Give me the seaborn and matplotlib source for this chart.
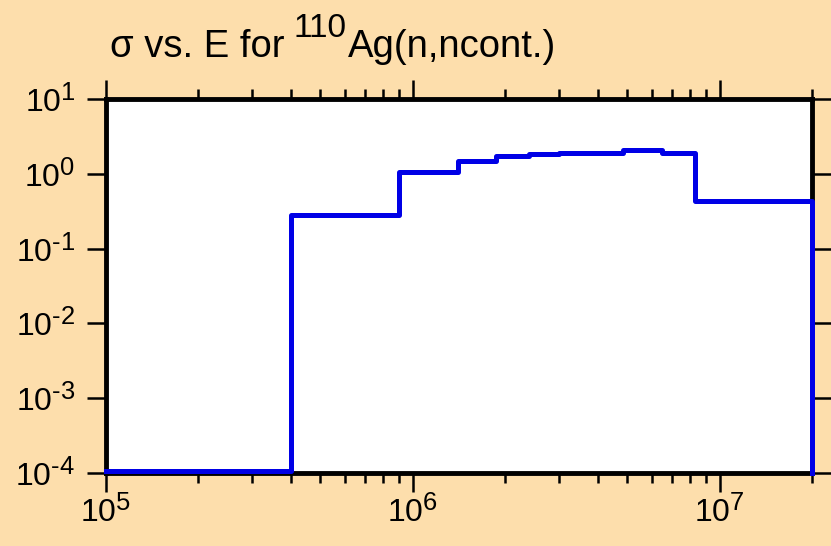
import numpy as np
import pandas as pd
import matplotlib
matplotlib.use("Agg")
import matplotlib.pyplot as plt
import seaborn as sns
from matplotlib.ticker import FuncFormatter, LogLocator, NullLocator

# donnees (bords des paliers en eV, section efficace en b)
energie = [1e5, 4e5, 9e5, 1.4e6, 1.87e6, 2.4e6, 3.0e6, 4.85e6, 6.5e6, 8.3e6, 2e7]
sigma = [1.07e-4, 0.284, 1.07, 1.50, 1.74, 1.85, 1.91, 2.08, 1.89, 0.436, 1e-4]

titre_debut = "σ vs. E for"
titre_exposant = "110"
titre_fin = "Ag(n,ncont.)"

df = pd.DataFrame({"E": energie, "sigma": sigma})

plt.rcParams["font.family"] = ["Liberation Sans", "DejaVu Sans"]
plt.rcParams["mathtext.fontset"] = "custom"
plt.rcParams["mathtext.rm"] = "Liberation Sans"
plt.rcParams["mathtext.it"] = "Liberation Sans"

# exposants un peu plus gros que le 0.7 par defaut de mathtext
try:
    import matplotlib._mathtext as _mt
    _mt.SHRINK_FACTOR = 0.8
except Exception:
    pass

fond = "#fddeac"
fig = plt.figure(figsize=(8.31, 5.46), dpi=100, facecolor=fond)
ax = fig.add_axes([106 / 831, 1 - 473 / 546, (812 - 106) / 831, (473 - 99) / 546])
ax.set_facecolor("white")

sns.lineplot(data=df, x="E", y="sigma", ax=ax, drawstyle="steps-post",
             color="#0000e6", linewidth=3.6, clip_on=False, zorder=3)

ax.set_xscale("log")
ax.set_yscale("log")
ax.set_xlim(1e5, 2e7)
ax.set_ylim(1e-4, 1e1)
ax.set_xlabel("")
ax.set_ylabel("")

def fmt_puissance(v, pos):
    if v <= 0:
        return ""
    e = int(round(np.log10(v)))
    txt = str(e).replace("-", "\u2010")
    return r"$\mathregular{10^{%s}}$" % txt

ax.xaxis.set_major_locator(LogLocator(base=10, numticks=10))
ax.xaxis.set_minor_locator(LogLocator(base=10, subs=np.arange(2, 10), numticks=20))
ax.yaxis.set_major_locator(LogLocator(base=10, numticks=10))
ax.yaxis.set_minor_locator(NullLocator())
ax.xaxis.set_major_formatter(FuncFormatter(fmt_puissance))
ax.yaxis.set_major_formatter(FuncFormatter(fmt_puissance))
ax.xaxis.set_minor_formatter(FuncFormatter(lambda v, p: ""))

ax.tick_params(which="major", direction="out", length=14, width=1.8,
               top=True, right=True, labelsize=23, colors="black")
ax.tick_params(which="minor", direction="out", length=7, width=1.8,
               top=True, right=True)
ax.tick_params(axis="x", which="major", pad=2)
ax.tick_params(axis="y", which="major", pad=8)

for s in ax.spines.values():
    s.set_linewidth(3.5)
    s.set_color("black")

# titre en trois morceaux pour avoir un exposant plus gros qu'en mathtext
fig.text(110 / 831, 1 - 57 / 546, titre_debut, fontsize=27.5, ha="left", va="baseline")
fig.text(294 / 831, 1 - 37 / 546, titre_exposant, fontsize=24, ha="left", va="baseline")
fig.text(348 / 831, 1 - 57 / 546, titre_fin, fontsize=27.5, ha="left", va="baseline")

plt.savefig("out.png", dpi=100, facecolor=fond)
plt.close()
